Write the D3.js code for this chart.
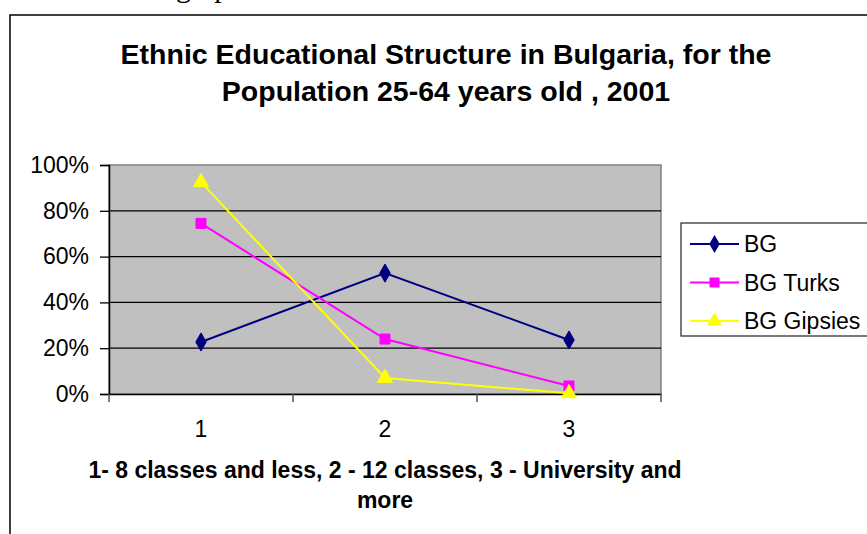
<!DOCTYPE html>
<html>
<head>
<meta charset="utf-8">
<script src="https://cdn.jsdelivr.net/npm/d3@7"></script>
<style>
  body { margin: 0; background: #fff; }
  text { font-family: Arial, "Liberation Sans", sans-serif; }
</style>
</head>
<body>
<svg width="867" height="534"></svg>
<script>
// Education levels of ethnic groups, Bulgaria 2001 (people aged 25-64)

var categories = ["1", "2", "3"];
var seriesNames = ["BG", "BG Turks", "BG Gipsies"];
var bgValues = [0.227, 0.528, 0.236];
var turksValues = [0.745, 0.240, 0.035];
var gipsiesValues = [0.925, 0.070, 0.003];
var yTicks = [0, 0.2, 0.4, 0.6, 0.8, 1.0];
var titleLines = ["Ethnic Educational Structure in Bulgaria, for the", "Population 25-64 years old , 2001"];
var xTitleLines = ["1- 8 classes and less, 2 - 12 classes, 3 - University and", "more"];

var series = [
    {name: seriesNames[0], values: bgValues, color: "#000080", marker: d3.symbolDiamond, size: 95},
    {name: seriesNames[1], values: turksValues, color: "#FF00FF", marker: d3.symbolSquare, size: 100},
    {name: seriesNames[2], values: gipsiesValues, color: "#FFFF00", marker: d3.symbolTriangle, size: 100}
];

var svg = d3.select("svg");

// bit of the page text above the chart, cut off at the top
svg.append("text")
    .attr("x", 176)
    .attr("y", -3)
    .style("font-family", "'Liberation Serif', 'Times New Roman', serif")
    .style("font-size", "30px")
    .text("graph");

// outer chart frame
svg.append("rect")
    .attr("x", 10).attr("y", 15)
    .attr("width", 880).attr("height", 540)
    .attr("fill", "#fff")
    .attr("stroke", "#000")
    .attr("stroke-width", 1.5);

var plot = {left: 109, right: 661, top: 165, bottom: 394};

var xScale = d3.scaleBand().domain(categories).range([plot.left, plot.right]);
var yScale = d3.scaleLinear().domain([0, 1]).range([plot.bottom, plot.top]);

// title
svg.append("text")
    .attr("y", 64)
    .attr("text-anchor", "middle")
    .style("font-size", "28.5px")
    .style("font-weight", "bold")
    .selectAll("tspan")
    .data(titleLines)
    .enter()
    .append("tspan")
    .attr("x", 446)
    .attr("dy", function(d, i) { return i == 0 ? 0 : 37; })
    .text(function(d) { return d; });

// plot background
svg.append("rect")
    .attr("x", plot.left).attr("y", plot.top)
    .attr("width", plot.right - plot.left)
    .attr("height", plot.bottom - plot.top)
    .attr("fill", "#C0C0C0")
    .attr("stroke", "#808080")
    .attr("stroke-width", 1.5);

// gridlines
svg.append("g")
    .selectAll("line")
    .data(yTicks.filter(function(d) { return d > 0 && d < 1; }))
    .enter()
    .append("line")
    .attr("x1", plot.left).attr("x2", plot.right)
    .attr("y1", function(d) { return yScale(d); })
    .attr("y2", function(d) { return yScale(d); })
    .attr("stroke", "#000")
    .attr("stroke-width", 1.3);

// y axis
var yAxis = svg.append("g")
    .attr("transform", "translate(" + plot.left + ",0)")
    .call(d3.axisLeft(yScale).tickValues(yTicks).tickFormat(d3.format(".0%")).tickSize(9).tickPadding(11));
yAxis.select(".domain").attr("stroke", "#000").attr("stroke-width", 1.5);
yAxis.selectAll(".tick line").attr("stroke", "#000").attr("stroke-width", 1.3);
yAxis.selectAll(".tick text")
    .style("font-size", "23px")
    .style("font-family", "Arial, 'Liberation Sans', sans-serif")
    .attr("fill", "#000");

// x axis, ticks on the category boundaries
var xAxis = svg.append("g")
    .attr("transform", "translate(0," + plot.bottom + ")")
    .call(d3.axisBottom(xScale).tickSize(0).tickPadding(27));
xAxis.select(".domain").attr("stroke", "#000").attr("stroke-width", 1.5);
xAxis.selectAll(".tick text")
    .style("font-size", "23px")
    .style("font-family", "Arial, 'Liberation Sans', sans-serif")
    .attr("fill", "#000");
xAxis.selectAll(".edge")
    .data(categories.concat(["end"]))
    .enter()
    .append("line")
    .attr("x1", function(d, i) { return i < categories.length ? xScale(d) : xScale.range()[1]; })
    .attr("x2", function(d, i) { return i < categories.length ? xScale(d) : xScale.range()[1]; })
    .attr("y1", 0).attr("y2", 8)
    .attr("stroke", "#555")
    .attr("stroke-width", 1.5);

// x axis title
svg.append("text")
    .attr("text-anchor", "middle")
    .attr("y", 478)
    .style("font-size", "23px")
    .style("font-weight", "bold")
    .selectAll("tspan")
    .data(xTitleLines)
    .enter()
    .append("tspan")
    .attr("x", 385)
    .attr("dy", function(d, i) { return i == 0 ? 0 : 30; })
    .text(function(d) { return d; });

// lines + markers
var line = d3.line()
    .x(function(d, i) { return xScale(categories[i]) + xScale.bandwidth() / 2; })
    .y(function(d) { return yScale(d); });

series.forEach(function(s) {
    svg.append("path")
        .datum(s.values)
        .attr("d", line)
        .attr("fill", "none")
        .attr("stroke", s.color)
        .attr("stroke-width", 2);

    svg.append("g")
        .selectAll("path")
        .data(s.values)
        .enter()
        .append("path")
        .attr("transform", function(d, i) {
            var x = xScale(categories[i]) + xScale.bandwidth() / 2;
            return "translate(" + x + "," + yScale(d) + ")";
        })
        .attr("d", d3.symbol().type(s.marker).size(s.size))
        .attr("fill", s.color)
        .attr("stroke", s.color)
        .attr("stroke-width", 1);
});

// legend
var legend = svg.append("g").attr("transform", "translate(681,223)");
legend.append("rect")
    .attr("width", 200).attr("height", 113)
    .attr("fill", "#fff")
    .attr("stroke", "#333")
    .attr("stroke-width", 1.3);

var rows = legend.selectAll(".row")
    .data(series)
    .enter()
    .append("g")
    .attr("transform", function(d, i) { return "translate(0," + (21 + i * 38.5) + ")"; });

rows.append("line")
    .attr("x1", 9).attr("x2", 58)
    .attr("stroke", function(d) { return d.color; })
    .attr("stroke-width", 2);

rows.append("path")
    .attr("transform", "translate(33.5,0)")
    .attr("d", function(d) { return d3.symbol().type(d.marker).size(d.size)(); })
    .attr("fill", function(d) { return d.color; });

rows.append("text")
    .attr("x", 63)
    .attr("dy", "0.35em")
    .style("font-size", "23px")
    .text(function(d) { return d.name; });
</script>
</body>
</html>
